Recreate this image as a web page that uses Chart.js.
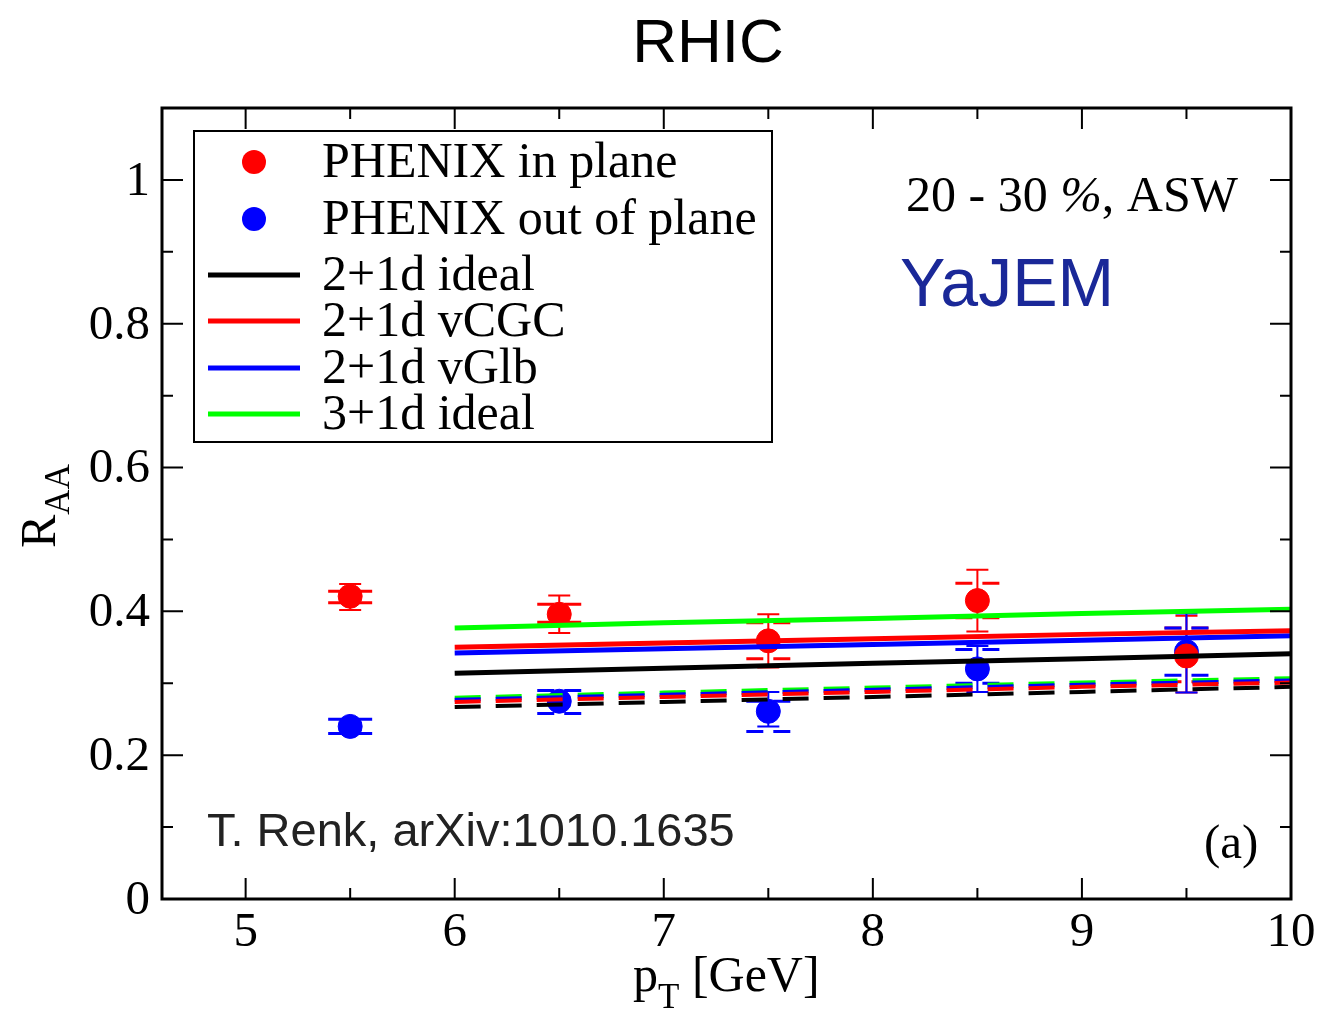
<!DOCTYPE html>
<html>
<head>
<meta charset="utf-8">
<script src="https://cdn.jsdelivr.net/npm/chart.js@4.4.0/dist/chart.umd.min.js"></script>
<style>
  html, body { margin: 0; padding: 0; background: #fff; }
  #wrap { width: 1322px; height: 1013px; }
</style>
</head>
<body>
<div id="wrap"><canvas id="raaChart" width="1322" height="1013"></canvas></div>
<script>
// data
var ptData = [5.5, 6.5, 7.5, 8.5, 9.5];
var inPlane = [0.421, 0.396, 0.359, 0.415, 0.338];
var inPlaneStat = [[0.402, 0.438], [0.370, 0.422], [0.322, 0.396], [0.372, 0.458], [0.287, 0.394]];
var inPlaneSys = [[0.412, 0.428], [0.385, 0.410], [0.334, 0.384], [0.391, 0.439], [0.302, 0.377]];
var outPlane = [0.240, 0.275, 0.261, 0.320, 0.344];
var outPlaneStat = [[0.235, 0.245], [0.268, 0.282], [0.240, 0.288], [0.288, 0.352], [0.287, 0.397]];
var outPlaneSys = [[0.230, 0.250], [0.258, 0.290], [0.233, 0.275], [0.300, 0.347], [0.311, 0.377]];

var ptModel = [6, 7, 8, 9, 10];
// solid = in plane, dashed = out of plane
var ideal2In = [0.314, 0.321, 0.328, 0.334, 0.341];
var cgcIn = [0.350, 0.356, 0.362, 0.368, 0.373];
var glbIn = [0.342, 0.348, 0.354, 0.360, 0.366];
var ideal3In = [0.377, 0.384, 0.390, 0.397, 0.403];
var ideal2Out = [0.267, 0.274, 0.281, 0.288, 0.295];
var cgcOut = [0.274, 0.281, 0.288, 0.295, 0.301];
var glbOut = [0.277, 0.284, 0.291, 0.298, 0.304];
var ideal3Out = [0.280, 0.287, 0.294, 0.301, 0.307];

var xTicks = [5, 6, 7, 8, 9, 10];
var xMinor = [5.5, 6.5, 7.5, 8.5, 9.5];
var yTicks = [0, 0.2, 0.4, 0.6, 0.8, 1];
var yTickLabels = ['0', '0.2', '0.4', '0.6', '0.8', '1'];
var yMinor = [0.1, 0.3, 0.5, 0.7, 0.9];

function pts(xs, ys) {
  return xs.map(function (x, i) { return { x: x, y: ys[i] }; });
}

function modelLine(label, color, ys, dashed) {
  return {
    type: 'line',
    label: label,
    data: pts(ptModel, ys),
    borderColor: color,
    backgroundColor: color,
    borderWidth: dashed ? 4 : 5,
    borderDash: dashed ? [26, 15] : [],
    pointRadius: 0,
    tension: 0,
    fill: false,
    order: 1,
    inLegend: !dashed
  };
}

var serif = '"Liberation Serif", "Times New Roman", serif';
var sans = '"Liberation Sans", Arial, Helvetica, sans-serif';

// error bars, drawn under the markers
var errorBars = {
  id: 'errorBars',
  beforeDatasetsDraw: function (chart) {
    var ctx = chart.ctx, xs = chart.scales.x, ys = chart.scales.y;
    var sets = [
      { color: 'rgb(255,0,0)', stat: inPlaneStat, sys: inPlaneSys },
      { color: 'rgb(0,0,255)', stat: outPlaneStat, sys: outPlaneSys }
    ];
    ctx.save();
    sets.forEach(function (s) {
      ctx.strokeStyle = s.color;
      ptData.forEach(function (pt, i) {
        var px = xs.getPixelForValue(pt);
        var lo = ys.getPixelForValue(s.stat[i][0]);
        var hi = ys.getPixelForValue(s.stat[i][1]);
        ctx.lineWidth = 2;
        ctx.beginPath();
        ctx.moveTo(px, lo); ctx.lineTo(px, hi);
        ctx.moveTo(px - 11, lo); ctx.lineTo(px + 11, lo);
        ctx.moveTo(px - 11, hi); ctx.lineTo(px + 11, hi);
        ctx.stroke();
        // systematic caps, split round the stem
        ctx.lineWidth = 3;
        [s.sys[i][0], s.sys[i][1]].forEach(function (v) {
          var py = ys.getPixelForValue(v);
          ctx.beginPath();
          ctx.moveTo(px - 22, py); ctx.lineTo(px - 5, py);
          ctx.moveTo(px + 5, py); ctx.lineTo(px + 22, py);
          ctx.stroke();
        });
      });
    });
    ctx.restore();
  }
};

// frame, inside ticks, tick labels, titles, legend and notes
var decor = {
  id: 'decor',
  afterDraw: function (chart) {
    var ctx = chart.ctx, a = chart.chartArea;
    var xs = chart.scales.x, ys = chart.scales.y;
    ctx.save();
    ctx.strokeStyle = '#000';
    ctx.lineWidth = 2;
    ctx.beginPath();
    xTicks.forEach(function (v) {
      var px = xs.getPixelForValue(v);
      ctx.moveTo(px, a.bottom); ctx.lineTo(px, a.bottom - 21);
      ctx.moveTo(px, a.top); ctx.lineTo(px, a.top + 21);
    });
    xMinor.forEach(function (v) {
      var px = xs.getPixelForValue(v);
      ctx.moveTo(px, a.bottom); ctx.lineTo(px, a.bottom - 11);
      ctx.moveTo(px, a.top); ctx.lineTo(px, a.top + 11);
    });
    yTicks.forEach(function (v) {
      var py = ys.getPixelForValue(v);
      ctx.moveTo(a.left, py); ctx.lineTo(a.left + 21, py);
      ctx.moveTo(a.right, py); ctx.lineTo(a.right - 21, py);
    });
    yMinor.forEach(function (v) {
      var py = ys.getPixelForValue(v);
      ctx.moveTo(a.left, py); ctx.lineTo(a.left + 11, py);
      ctx.moveTo(a.right, py); ctx.lineTo(a.right - 11, py);
    });
    ctx.stroke();
    ctx.lineWidth = 3;
    ctx.strokeRect(a.left, a.top, a.right - a.left, a.bottom - a.top);

    // tick labels
    ctx.fillStyle = '#000';
    ctx.font = '49px ' + serif;
    ctx.textAlign = 'center';
    ctx.textBaseline = 'alphabetic';
    xTicks.forEach(function (v) {
      ctx.fillText(String(v), xs.getPixelForValue(v), a.bottom + 47);
    });
    ctx.textAlign = 'right';
    ctx.textBaseline = 'middle';
    yTicks.forEach(function (v, i) {
      ctx.fillText(yTickLabels[i], a.left - 12, ys.getPixelForValue(v) + 2);
    });

    // axis titles
    ctx.textAlign = 'left';
    ctx.textBaseline = 'alphabetic';
    ctx.font = '50px ' + serif;
    var xt = 'p', xr = ' [GeV]';
    ctx.fillText(xt, 633, 991);
    var pw = ctx.measureText(xt).width;
    ctx.font = '35px ' + serif;
    ctx.fillText('T', 633 + pw, 1008);
    var tw = ctx.measureText('T').width;
    ctx.font = '50px ' + serif;
    ctx.fillText(xr, 633 + pw + tw, 991);

    ctx.save();
    ctx.translate(55, 548);
    ctx.rotate(-Math.PI / 2);
    ctx.font = '50px ' + serif;
    ctx.fillText('R', 0, 0);
    var rw = ctx.measureText('R').width;
    ctx.font = '35px ' + serif;
    ctx.fillText('AA', rw, 14);
    ctx.restore();

    // title
    ctx.font = '62px ' + sans;
    ctx.textAlign = 'center';
    ctx.fillText('RHIC', 708, 62);

    // notes
    ctx.textAlign = 'left';
    ctx.font = '50px ' + serif;
    ctx.fillText('20 - 30 ', 906, 211);
    var nw = ctx.measureText('20 - 30 ').width;
    ctx.font = 'italic 50px ' + serif;
    ctx.fillText('%', 906 + nw, 211);
    var qw = ctx.measureText('%').width;
    ctx.font = '50px ' + serif;
    ctx.fillText(', ASW', 906 + nw + qw, 211);
    ctx.font = '49px ' + serif;
    ctx.fillText('(a)', 1204, 858);
    ctx.fillStyle = '#1a2898';
    ctx.font = '68px ' + sans;
    ctx.fillText('YaJEM', 900, 306);
    ctx.fillStyle = '#222';
    ctx.font = '47px ' + sans;
    ctx.fillText('T. Renk, arXiv:1010.1635', 207, 846);

    // legend box
    ctx.fillStyle = '#fff';
    ctx.fillRect(194, 131, 578, 311);
    ctx.lineWidth = 2;
    ctx.strokeStyle = '#000';
    ctx.strokeRect(194, 131, 578, 311);
    var rowsY = [162, 219, 275, 321, 368, 414];
    var items = chart.data.datasets.filter(function (d) { return d.inLegend; });
    items.sort(function (p, q) { return p.legendPos - q.legendPos; });
    ctx.font = '50px ' + serif;
    ctx.textBaseline = 'middle';
    items.forEach(function (d, i) {
      var y = rowsY[i];
      if (d.type === 'scatter') {
        ctx.fillStyle = d.backgroundColor;
        ctx.beginPath();
        ctx.ellipse(254, y, 12, 12, 0, 0, Math.PI * 2);
        ctx.fill();
      } else {
        ctx.strokeStyle = d.borderColor;
        ctx.lineWidth = 5;
        ctx.beginPath();
        ctx.moveTo(208, y); ctx.lineTo(300, y);
        ctx.stroke();
      }
      ctx.fillStyle = '#000';
      ctx.fillText(d.label, 322, y + 2);
    });
    ctx.restore();
  }
};

var datasets = [
  modelLine('2+1d ideal', 'rgb(0,0,0)', ideal2In, false),
  modelLine('2+1d vCGC', 'rgb(255,0,0)', cgcIn, false),
  modelLine('2+1d vGlb', 'rgb(0,0,255)', glbIn, false),
  modelLine('3+1d ideal', 'rgb(0,255,0)', ideal3In, false),
  modelLine('2+1d ideal out', 'rgb(0,0,0)', ideal2Out, true),
  modelLine('2+1d vCGC out', 'rgb(255,0,0)', cgcOut, true),
  modelLine('2+1d vGlb out', 'rgb(0,0,255)', glbOut, true),
  modelLine('3+1d ideal out', 'rgb(0,255,0)', ideal3Out, true),
  {
    type: 'scatter',
    label: 'PHENIX in plane',
    data: pts(ptData, inPlane),
    backgroundColor: 'rgb(255,0,0)',
    borderColor: 'rgb(255,0,0)',
    pointRadius: 12,
    pointHoverRadius: 12,
    order: 5,
    inLegend: true
  },
  {
    type: 'scatter',
    label: 'PHENIX out of plane',
    data: pts(ptData, outPlane),
    backgroundColor: 'rgb(0,0,255)',
    borderColor: 'rgb(0,0,255)',
    pointRadius: 12,
    pointHoverRadius: 12,
    order: 5,
    inLegend: true
  }
];
var legendOrder = ['PHENIX in plane', 'PHENIX out of plane', '2+1d ideal', '2+1d vCGC', '2+1d vGlb', '3+1d ideal'];
datasets.forEach(function (d) { d.legendPos = legendOrder.indexOf(d.label); });

var raaChart = document.getElementById('raaChart').getContext('2d');
var chart = new Chart(raaChart, {
    type: 'scatter',
    data: { datasets: datasets },
    options: {
      responsive: false,
      animation: false,
      layout: { padding: { left: 162, right: 31, top: 108, bottom: 114 } },
      plugins: {
        legend: { display: false },
        tooltip: { enabled: false },
        title: { display: false }
      },
      scales: {
        x: { type: 'linear', min: 4.6, max: 10, display: false },
        y: { type: 'linear', min: 0, max: 1.1, display: false }
      }
    },
    plugins: [errorBars, decor]
});
</script>
</body>
</html>
